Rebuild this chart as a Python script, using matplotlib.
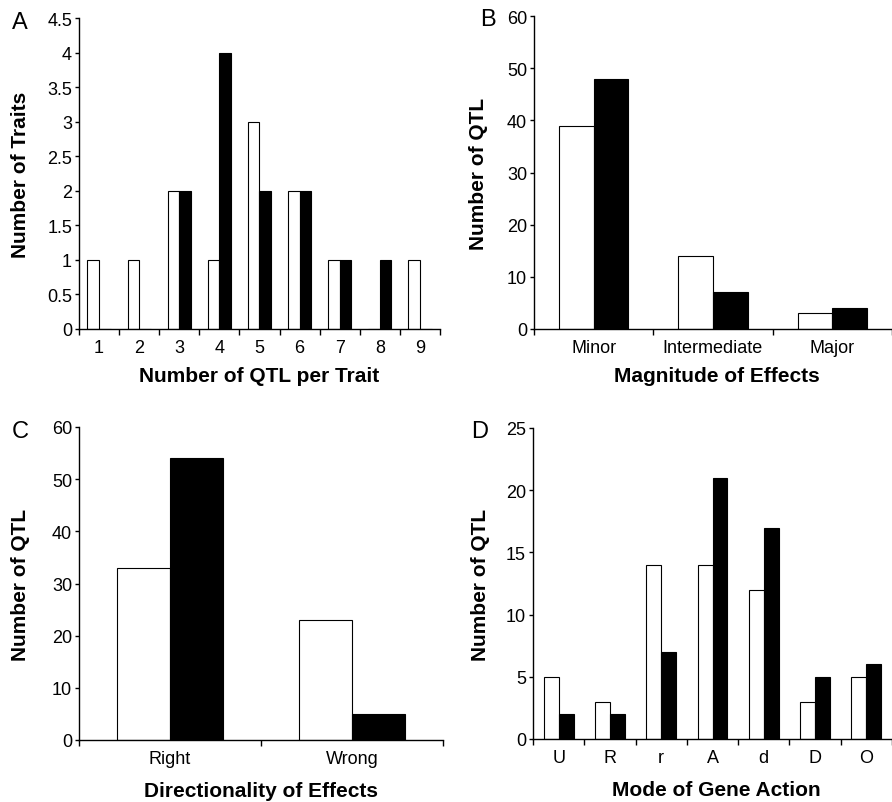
import matplotlib
matplotlib.use("Agg")
import matplotlib.pyplot as plt
import numpy as np

plt.rcParams['font.family'] = ['Liberation Sans', 'DejaVu Sans']

# panel A: number of QTL per trait
a_cats = ['1', '2', '3', '4', '5', '6', '7', '8', '9']
a_white = [1, 1, 2, 1, 3, 2, 1, 0, 1]
a_black = [0, 0, 2, 4, 2, 2, 1, 1, 0]

# panel B: magnitude of effects
b_cats = ['Minor', 'Intermediate', 'Major']
b_white = [39, 14, 3]
b_black = [48, 7, 4]

# panel C: directionality of effects
c_cats = ['Right', 'Wrong']
c_white = [33, 23]
c_black = [54, 5]

# panel D: mode of gene action
d_cats = ['U', 'R', 'r', 'A', 'd', 'D', 'O']
d_white = [5, 3, 14, 14, 12, 3, 5]
d_black = [2, 2, 7, 21, 17, 5, 6]

fig = plt.figure(figsize=(8.92, 8.03), dpi=100)


def panel(rect, cats, white, black, ymax, ystep, xright, xlabel, ylabel, xl_pos, yl_x):
    ax = fig.add_axes(rect)
    x = np.arange(len(cats))
    w = 0.29
    ax.bar(x - w / 2, white, w, color='white', edgecolor='black', linewidth=0.8, zorder=2)
    ax.bar(x + w / 2, black, w, color='black', edgecolor='black', linewidth=0.8, zorder=2)
    ax.set_xlim(-0.5, xright)
    ax.set_ylim(0, ymax)
    ax.spines['top'].set_visible(False)
    ax.spines['right'].set_visible(False)
    for s in ['left', 'bottom']:
        ax.spines[s].set_linewidth(1.0)
        ax.spines[s].set_zorder(3)
    yt = np.arange(0, ymax + ystep / 2, ystep)
    ax.set_yticks(yt)
    ax.set_yticklabels(['%g' % v for v in yt])
    ax.tick_params(axis='y', direction='out', length=3, width=1, pad=2, labelsize=13)
    # boundary ticks on major, labels at centres on minor
    ax.set_xticks(np.arange(-0.5, len(cats) + 0.5, 1.0))
    ax.set_xticklabels([])
    ax.tick_params(axis='x', which='major', direction='out', length=4, width=1)
    ax.set_xticks(x, minor=True)
    ax.set_xticklabels(cats, minor=True)
    ax.tick_params(axis='x', which='minor', length=0, pad=7, labelsize=13)
    ax.set_xlabel(xlabel, fontsize=15, fontweight='bold')
    ax.xaxis.label.set_va('center')
    ax.xaxis.set_label_coords(*xl_pos)
    ax.set_ylabel(ylabel, fontsize=15, fontweight='bold')
    ax.yaxis.label.set_va('center')
    ax.yaxis.set_label_coords(yl_x, 0.5)
    return ax


axA = panel([79 / 892, 1 - 330 / 803, 361 / 892, 311 / 803], a_cats, a_white, a_black,
            4.5, 0.5, 8.5, 'Number of QTL per Trait', 'Number of Traits',
            (0.5, -0.151), -0.163)
axB = panel([534 / 892, 1 - 330 / 803, 358 / 892, 313 / 803], b_cats, b_white, b_black,
            60, 10, 2.418, 'Magnitude of Effects', 'Number of QTL',
            (0.51, -0.150), -0.154)
axC = panel([79 / 892, 1 - 741 / 803, 364 / 892, 313 / 803], c_cats, c_white, c_black,
            60, 10, 1.5, 'Directionality of Effects', 'Number of QTL',
            (0.5, -0.160), -0.162)
axD = panel([533 / 892, 1 - 740 / 803, 359 / 892, 311 / 803], d_cats, d_white, d_black,
            25, 5, 6.36, 'Mode of Gene Action', 'Number of QTL',
            (0.51, -0.161), -0.145)

fig.text(20 / 892, 1 - 23 / 803, 'A', fontsize=17, ha='center', va='center')
fig.text(488 / 892, 1 - 20 / 803, 'B', fontsize=17, ha='center', va='center')
fig.text(20 / 892, 1 - 432 / 803, 'C', fontsize=17, ha='center', va='center')
fig.text(480 / 892, 1 - 432 / 803, 'D', fontsize=17, ha='center', va='center')

fig.savefig('out.png', dpi=100)
